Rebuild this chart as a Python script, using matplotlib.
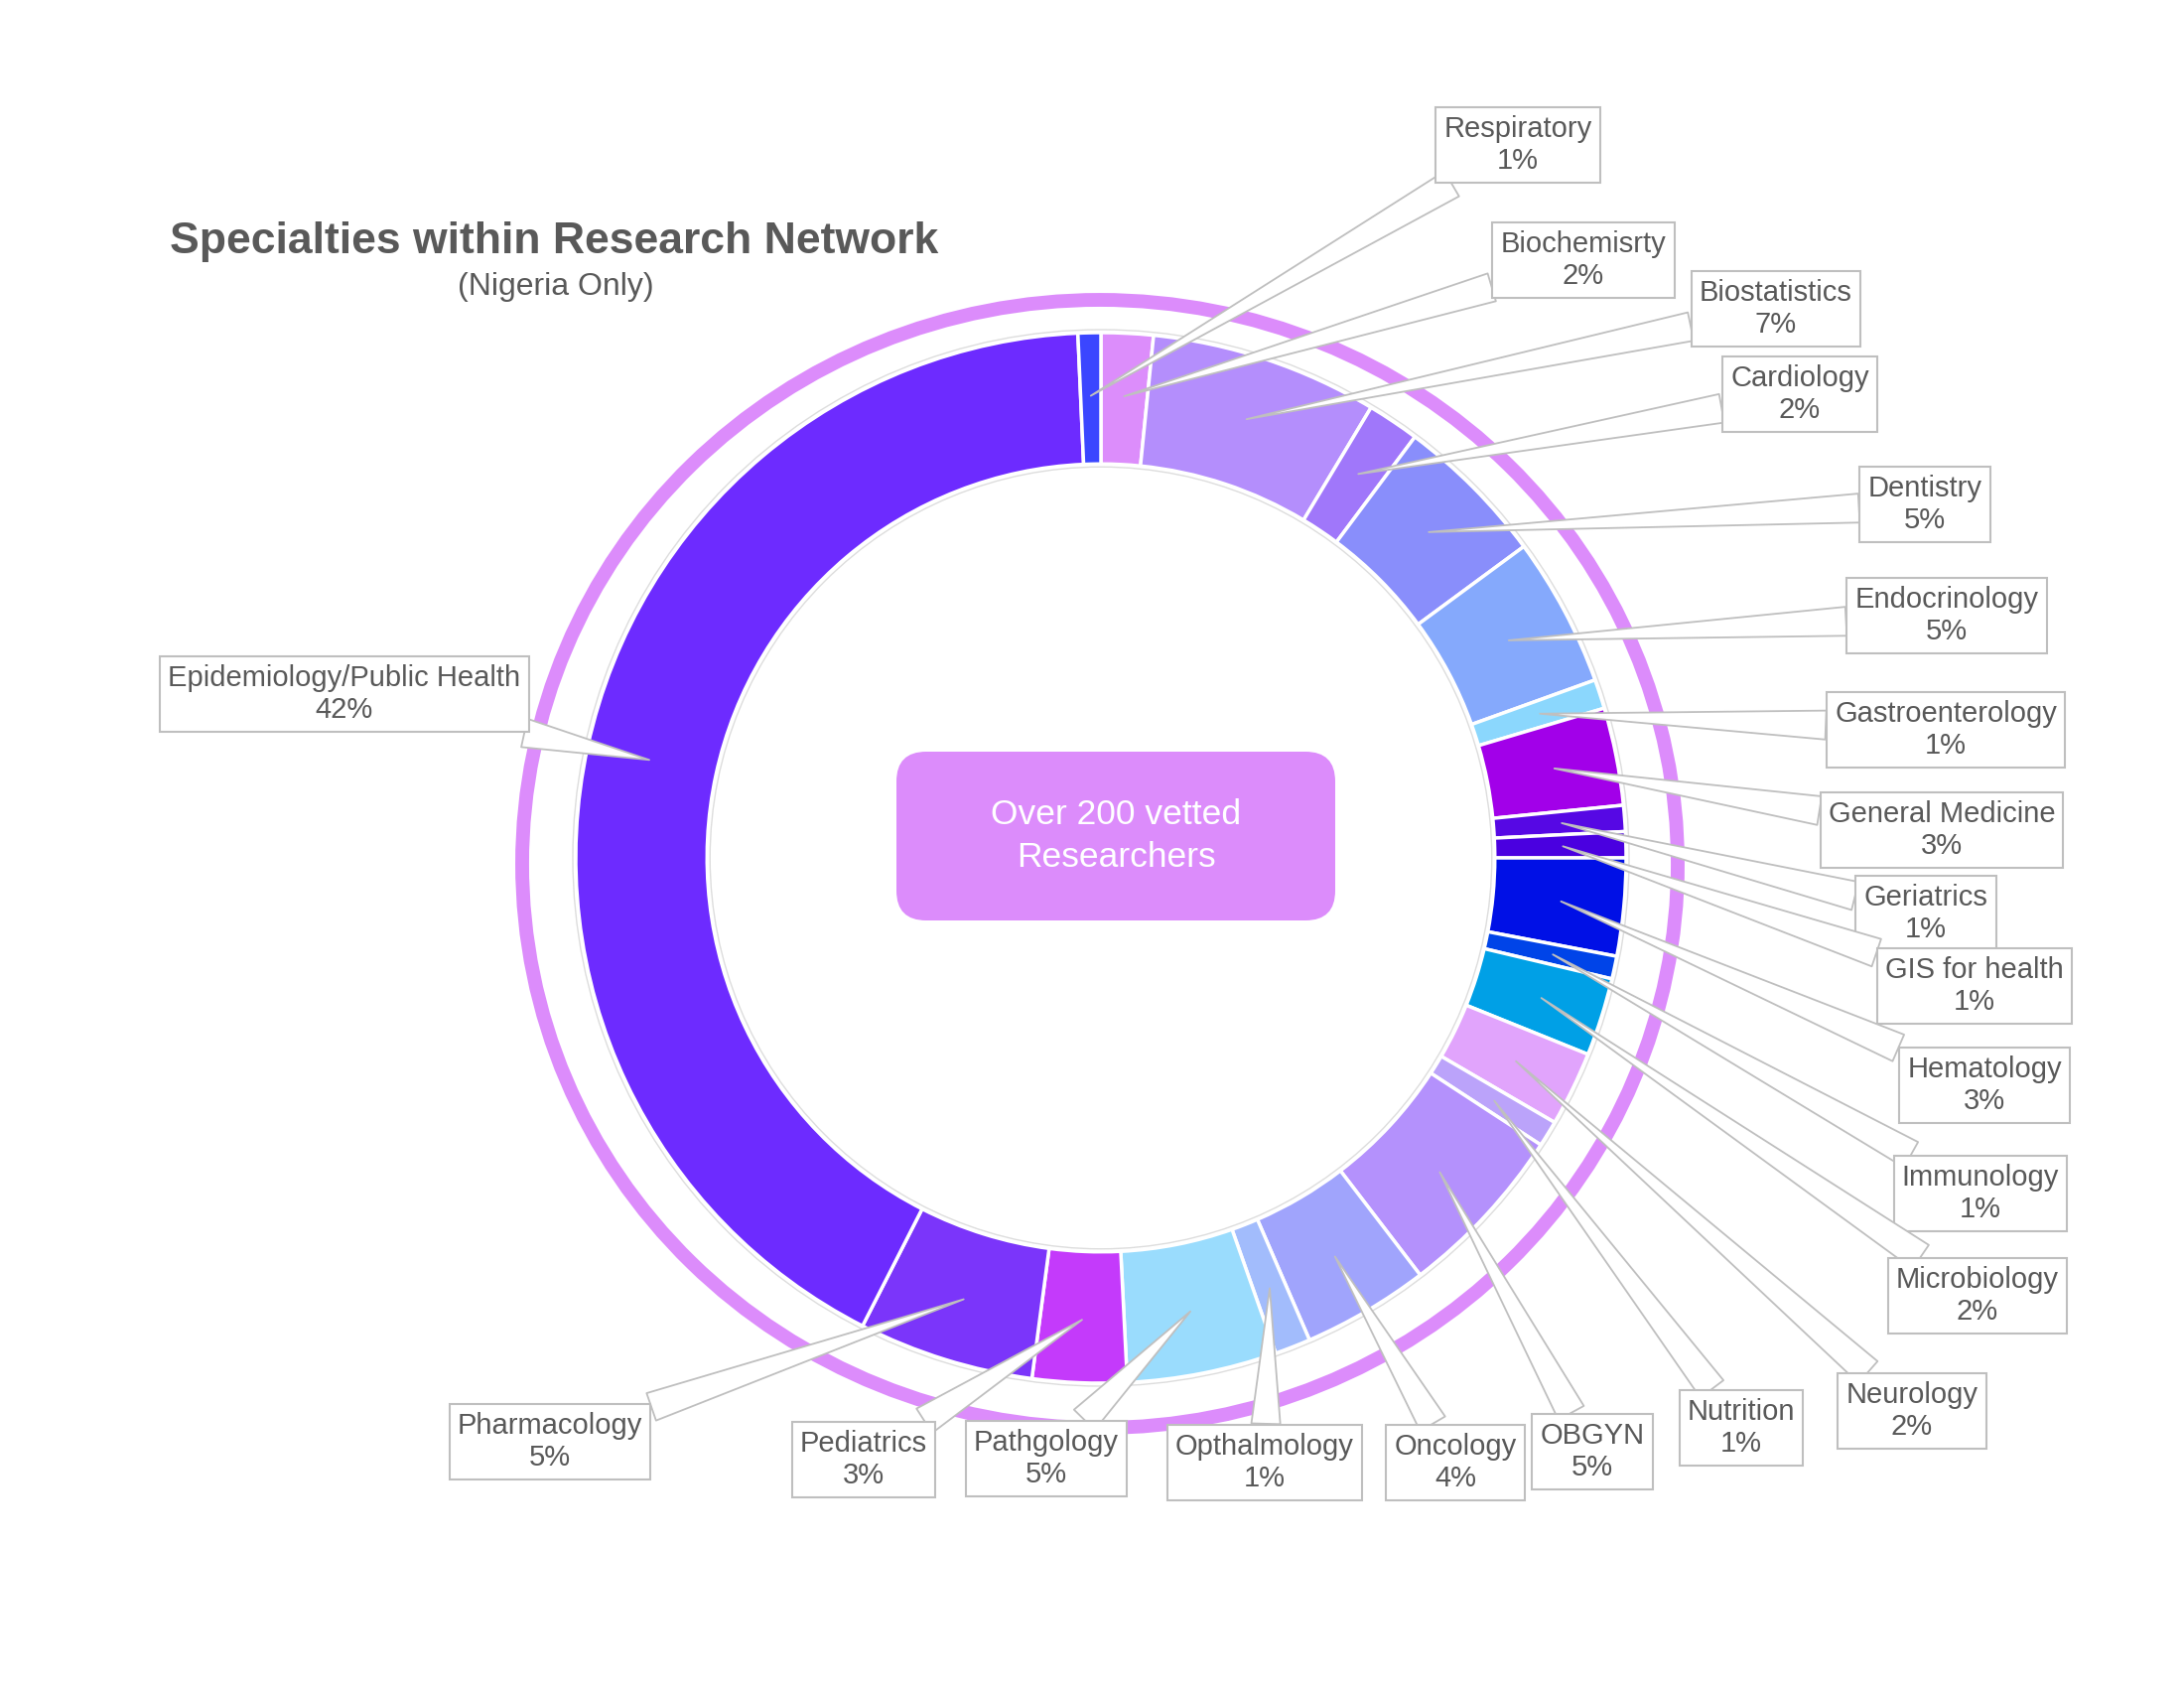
import numpy as np
import matplotlib
matplotlib.use("Agg")
import matplotlib.pyplot as plt
from matplotlib.patches import Circle, Ellipse, FancyBboxPatch

plt.rcParams['font.family'] = ['Liberation Sans', 'DejaVu Sans']

# dados (clockwise from the top)
specialties = ["Biochemisrty", "Biostatistics", "Cardiology", "Dentistry",
               "Endocrinology", "Gastroenterology", "General Medicine",
               "Geriatrics", "GIS for health", "Hematology", "Immunology",
               "Microbiology", "Neurology", "Nutrition", "OBGYN", "Oncology",
               "Opthalmology", "Pathgology", "Pediatrics", "Pharmacology",
               "Epidemiology/Public Health", "Respiratory"]
shares = [1.6, 7.0, 1.6, 4.7, 4.6, 0.9, 3.0, 0.8, 0.8, 3.0, 0.7,
          2.4, 2.3, 0.8, 5.4, 3.9, 1.1, 4.6, 2.9, 5.4, 41.8, 0.7]
colors = ["#DC8DFB", "#B48EFC", "#A077FA", "#898EFB", "#85A9FC", "#8BD7FD",
          "#A200E9", "#5608E4", "#4A00E0", "#0010E6", "#0044E8", "#00A0E6",
          "#E1A4FC", "#BBA3FA", "#B491FC", "#A0A4FC", "#A2BCFC", "#9ADCFD",
          "#C43AFB", "#7B35FA", "#6D2BFF", "#3B46FF"]

# label box centres (pixels, origin bottom-left)
label_pos = [(1595, 1438), (1789, 1389), (1813, 1303), (1939, 1192),
             (1961, 1080), (1960, 965), (1956, 864), (1940, 780),
             (1989, 707), (1999, 607), (1995, 498), (1992, 395),
             (1926, 279), (1754, 262), (1604, 238), (1466, 227),
             (1274, 227), (1054, 231), (870, 230), (554, 248),
             (347, 1001), (1529, 1554)]

W, H = 2200, 1700
cx, cy = 1109, 836
R = 529
gray = "#595959"
pink = "#DC8CFB"

fig = plt.figure(figsize=(22, 17), dpi=100)
ax = fig.add_axes([0, 0, 1, 1])

wedges, _ = ax.pie(shares, colors=colors, startangle=90, counterclock=False,
                   center=(cx, cy), radius=R,
                   wedgeprops=dict(width=R * 0.25, edgecolor="white", linewidth=2.5))

ax.add_patch(Circle((cx, cy), R + 3, fill=False, ec="#dddddd", lw=1))
ax.add_patch(Circle((cx, cy), R * 0.75 - 3, fill=False, ec="#dddddd", lw=1))
# anel exterior (ligeiramente oval)
ax.add_patch(Ellipse((1108, 830), 2 * 582, 2 * 568, fill=False, ec=pink, lw=10))

ax.set_xlim(0, W)
ax.set_ylim(0, H)
ax.set_aspect("equal")
ax.axis("off")

total = sum(shares)
for w, name, v, pos in zip(wedges, specialties, shares, label_pos):
    mid = np.deg2rad((w.theta1 + w.theta2) / 2)
    tip = (cx + 0.88 * R * np.cos(mid), cy + 0.88 * R * np.sin(mid))
    pct = int(v / total * 100 + 0.5)
    ax.annotate(f"{name}\n{pct}%", xy=tip, xytext=pos, ha="center", va="center",
                fontsize=21, color=gray, linespacing=1.2, zorder=5,
                bbox=dict(boxstyle="square,pad=0.28", fc="white", ec="#bfbfbf", lw=1.5),
                arrowprops=dict(arrowstyle="wedge,tail_width=1.0,shrink_factor=0.5",
                                fc="white", ec="#bfbfbf", lw=1.3,
                                shrinkA=0, shrinkB=0))

# caixa central
box = FancyBboxPatch((903, 773), 442, 170, boxstyle="round,pad=0,rounding_size=30",
                     fc=pink, ec="none", zorder=4)
ax.add_patch(box)
ax.text(1124, 858, "Over 200 vetted\nResearchers", ha="center", va="center",
        fontsize=25.5, color="white", linespacing=1.35, zorder=6)

ax.text(558, 1457, "Specialties within Research Network", ha="center", va="center",
        fontsize=32, fontweight="bold", color=gray)
ax.text(560, 1411, "(Nigeria Only)", ha="center", va="center", fontsize=23, color=gray)

fig.savefig("out.png", dpi=100)
